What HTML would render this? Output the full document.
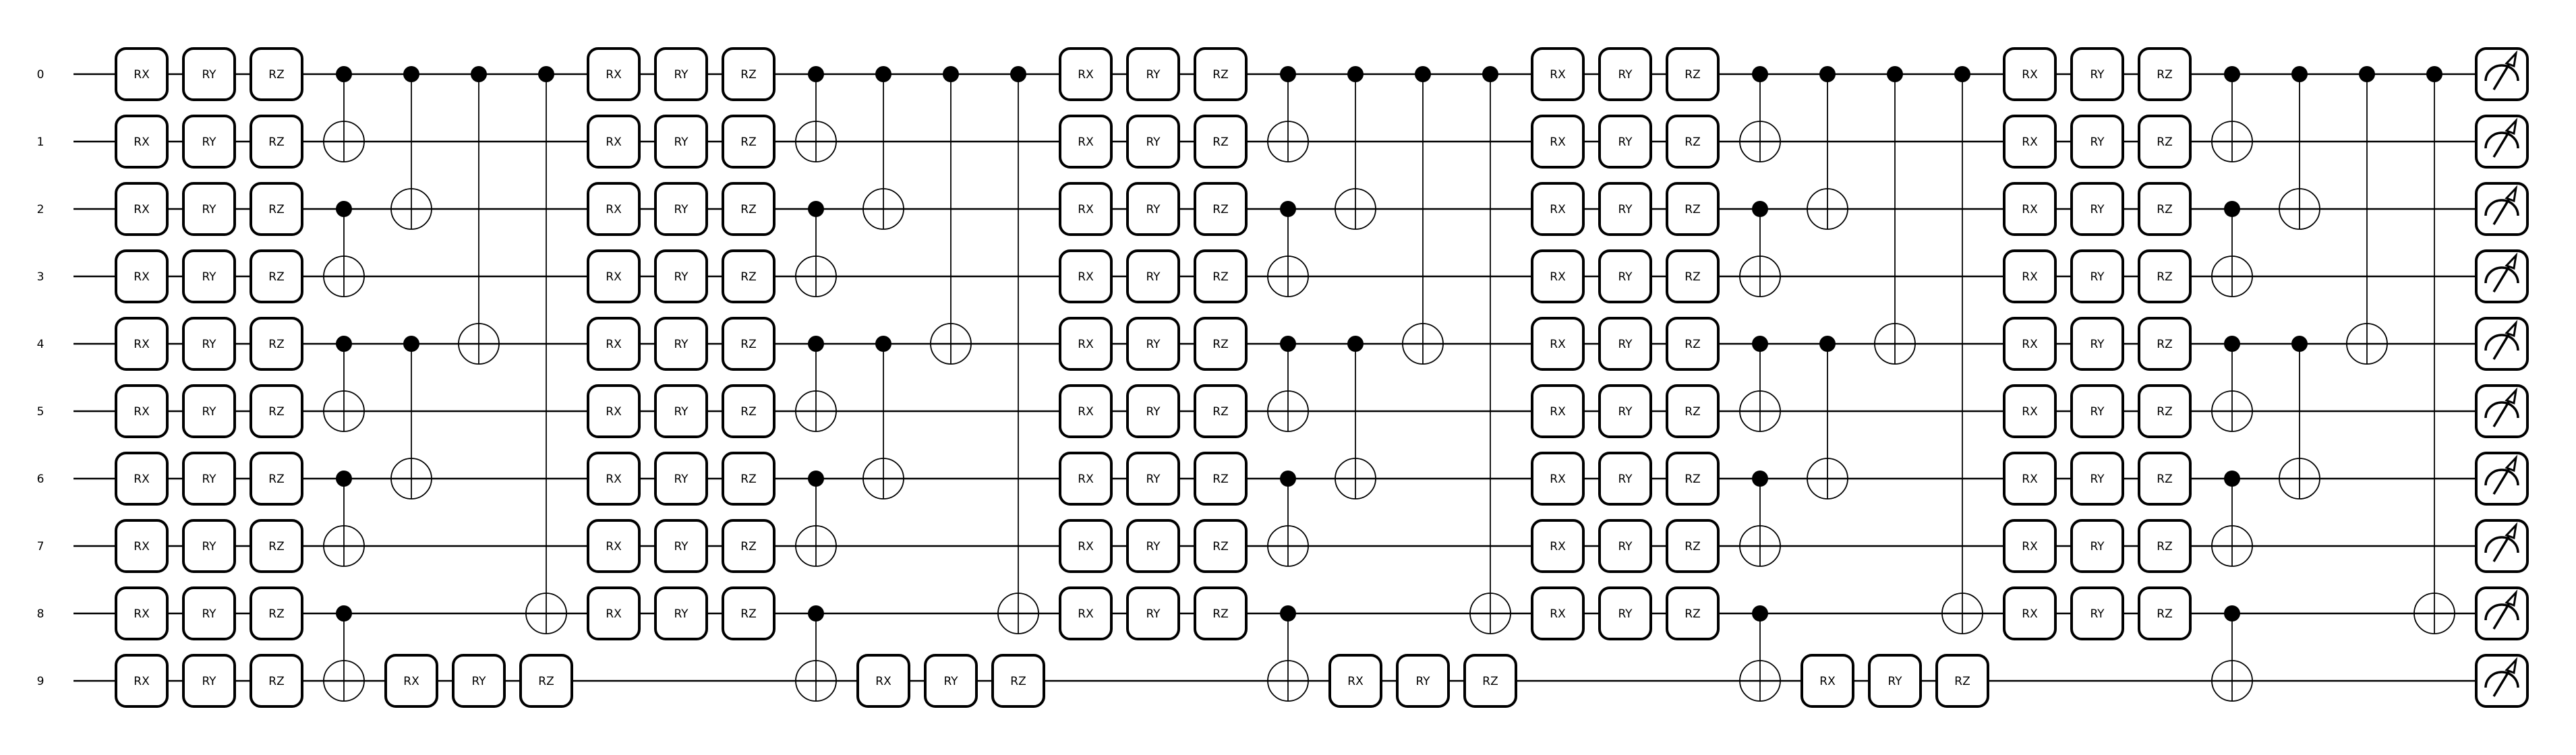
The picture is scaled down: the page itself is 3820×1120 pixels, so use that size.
<!DOCTYPE html>
<html><head><meta charset="utf-8"><style>
html,body{margin:0;padding:0;background:#fff;}
svg{display:block;}
text{font-family:"DejaVu Sans","Liberation Sans",sans-serif;}
</style></head><body>
<svg id="c" width="3820" height="1120" viewBox="0 0 3820 1120" xmlns="http://www.w3.org/2000/svg"></svg>
<script>
const wires = [0,1,2,3,4,5,6,7,8,9];
const layerStarts = [0,7,14,21,28];
const rotNames = ["RX","RY","RZ"];
const cnotPairs = [[[0,1],[2,3],[4,5],[6,7],[8,9]],[[0,2],[4,6]],[[0,4]],[[0,8]]];
const measureCol = 35;
const NS="http://www.w3.org/2000/svg";
const svg=document.getElementById('c');
const X=c=>210+100*c, Y=w=>110+100*w;
function mk(t,a,p){const e=document.createElementNS(NS,t);for(const k in a)e.setAttribute(k,a[k]);(p||svg).appendChild(e);return e;}
// wires
wires.forEach(w=>{
  const t=mk('text',{x:60,y:Y(w)+6,'text-anchor':'middle','font-size':17});t.textContent=String(w);
  
  
  const l=mk('line',{x1:109,y1:Y(w),x2:X(measureCol)-38,y2:Y(w),stroke:'#000','stroke-width':2.5});
  
  
});
function gate(c,w,name){
  const g=mk('g',{});
  
  
  mk('rect',{x:X(c)-38,y:Y(w)-38,width:76,height:76,rx:15,fill:'#fff',stroke:'#000','stroke-width':4},g);
  const t=mk('text',{x:X(c),y:Y(w)+6,'text-anchor':'middle','font-size':17},g);t.textContent=name;
}
function cnot(c,ctl,tgt){
  const g=mk('g',{});
  
  
  const ey=tgt>ctl?Y(tgt)+30:Y(tgt)-30;
  mk('line',{x1:X(c),y1:Y(ctl),x2:X(c),y2:ey,stroke:'#000','stroke-width':1.8},g);
  mk('circle',{cx:X(c),cy:Y(ctl),r:12,fill:'#000'},g);
  mk('circle',{cx:X(c),cy:Y(tgt),r:30,fill:'none',stroke:'#000','stroke-width':1.8},g);
  mk('line',{x1:X(c)-30,y1:Y(tgt),x2:X(c)+30,y2:Y(tgt),stroke:'#000','stroke-width':1.8},g);
}
layerStarts.forEach((o,L)=>{
  wires.forEach(w=>{
    if(w<9||L===0) rotNames.forEach((n,i)=>gate(o+i,w,n));
  });
  if(L<layerStarts.length-1) rotNames.forEach((n,i)=>gate(o+4+i,9,n));
  cnotPairs.forEach((col,k)=>col.forEach(p=>cnot(o+3+k,p[0],p[1])));
});
wires.forEach(w=>{
  const g=mk('g',{});
  
  
  const cx=X(measureCol),cy=Y(w);
  mk('rect',{x:cx-38,y:cy-38,width:76,height:76,rx:15,fill:'#fff',stroke:'#000','stroke-width':4},g);
  mk('path',{d:`M${cx-24},${cy+10} A24,23 0 0 1 ${cx+24},${cy+10}`,fill:'none',stroke:'#000','stroke-width':3.5},g);
  mk('line',{x1:cx-12,y1:cy+23,x2:cx+17,y2:cy-25,stroke:'#000','stroke-width':3.5},g);
  mk('path',{d:`M${cx+21},${cy-31} L${cx+7},${cy-16} L${cx+18},${cy-12} Z`,fill:'#fff',stroke:'#000','stroke-width':3,'stroke-linejoin':'miter'},g);
});
</script>
</body></html>
